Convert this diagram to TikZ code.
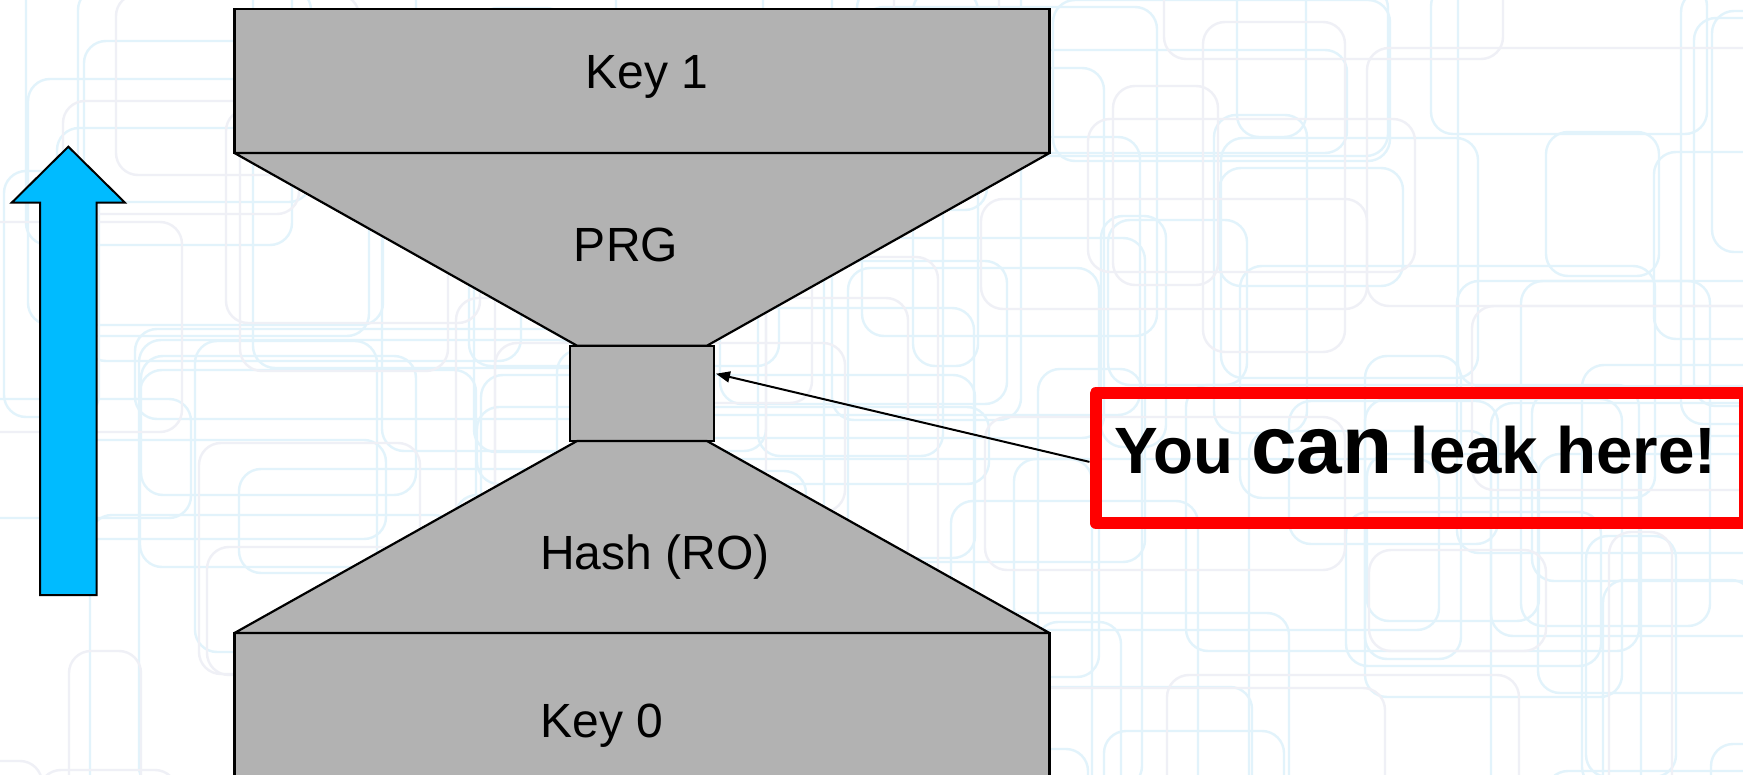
\documentclass[tikz,border=0pt]{standalone}
\usepackage{fontspec}
\setmainfont{Liberation Sans}
\usetikzlibrary{arrows.meta,calc}
\definecolor{boxgray}{RGB}{178,178,178}
\definecolor{arrowblue}{RGB}{0,187,255}
\definecolor{patblue}{RGB}{226,243,251}
\definecolor{patgray}{RGB}{239,240,246}
\definecolor{calloutred}{RGB}{255,0,0}
\begin{document}
\begin{tikzpicture}[x=1pt,y=-1pt,
  block/.style={draw=black,line width=2.2pt,fill=boxgray,inner sep=0pt,outer sep=0pt},
  funnel/.style={draw=black,line width=2.2pt,fill=boxgray,line join=round},
  boxlabel/.style={font=\fontsize{48}{52}\selectfont,anchor=base,inner sep=0pt},
  pattern line/.style={line width=2.4pt,rounded corners=22pt}]
\useasboundingbox (0,0) rectangle (1743,775);
\clip (0,0) rectangle (1743,775);
\fill[white] (0,0) rectangle (1743,775);

% faint circuit-like backdrop of rounded frames
\pgfmathsetseed{4242}
\foreach \k in {1,...,95}{
  \pgfmathsetmacro\bx{random(0,1840)-80}
  \pgfmathsetmacro\by{random(0,880)-80}
  \pgfmathsetmacro\bw{random(60,560)}
  \pgfmathsetmacro\bh{random(60,460)}
  \draw[pattern line,patblue] (\bx,\by) rectangle ++(\bw,\bh);
}
\foreach \k in {1,...,30}{
  \pgfmathsetmacro\bx{random(0,1840)-80}
  \pgfmathsetmacro\by{random(0,880)-80}
  \pgfmathsetmacro\bw{random(60,460)}
  \pgfmathsetmacro\bh{random(60,400)}
  \draw[pattern line,patgray] (\bx,\by) rectangle ++(\bw,\bh);
}

% upward arrow on the left
\draw[fill=arrowblue,line width=2pt,line join=miter]
  (40,595) -- (40,202.7) -- (11.7,202.7) -- (68.3,146.7)
  -- (125,202.7) -- (96.7,202.7) -- (96.7,595) -- cycle;

% the two key blocks and the narrow middle block
\node[block,minimum width=815pt,minimum height=143.7pt] (key1) at (642,81.15) {};
\node[block,minimum width=144pt,minimum height=95.3pt] (mid) at (642,393.35) {};
\node[block,minimum width=815pt,minimum height=167pt] (key0) at (642,716.5) {};

% funnels between them
\draw[funnel] (key1.south west) -- (key1.south east)
  -- ($(mid.north)+(65,0)$) -- ($(mid.north)+(-65,0)$) -- cycle;
\draw[funnel] ($(mid.south)+(-65,0)$) -- ($(mid.south)+(65,0)$)
  -- (key0.north east) -- (key0.north west) -- cycle;
\draw[line width=2.2pt] (key1.south west) -- (key1.south east);
\draw[line width=2.2pt] (key0.north west) -- (key0.north east);
\draw[line width=2.2pt] (mid.north west) rectangle (mid.south east);

% labels
\node[boxlabel] (lblkey1) at (647,89) {Key 1};
\node[boxlabel] (lblprg) at (626,262) {PRG};
\node[boxlabel] (lblhash) at (655,569.5) {Hash (RO)};
\node[boxlabel] (lblkey0) at (602,737) {Key 0};

% callout
\node[draw=calloutred,line width=12pt,line join=round,inner sep=0pt,
  minimum width=649.5pt,minimum height=129.2pt] (callout) at (1420.25,457.9) {};
\node[anchor=base,inner sep=0pt,font=\fontsize{65.5}{70}\selectfont\bfseries] (lblleak)
  at (1415.5,473) {You {\fontsize{82}{88}\selectfont can} leak here!};

\coordinate (leakpt) at ($(mid.north east)+(2,28)$);
\draw[line width=2pt,-{Triangle[length=14pt,width=11pt]}]
  ($(callout.west)+(0,4)$) -- (leakpt);
\end{tikzpicture}
\end{document}
